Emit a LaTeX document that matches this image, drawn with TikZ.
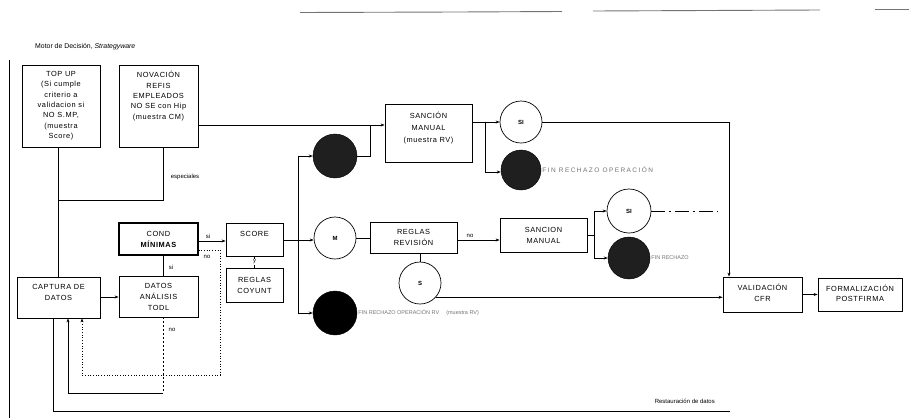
\documentclass[tikz,border=0pt]{standalone}
\usepackage{fontspec}
\setmainfont{Liberation Sans}
\usetikzlibrary{arrows.meta,calc}
\begin{document}
\begin{tikzpicture}[x=1pt,y=-1pt,
  box/.style={draw, line width=0.8pt, rectangle, inner sep=1pt, align=center, font=\fontsize{7.4}{11}\selectfont\addfontfeature{LetterSpace=8}},
  txt/.style={align=center, inner sep=0pt, font=\fontsize{7.4}{10.4}\selectfont\addfontfeature{LetterSpace=8}},
  circ/.style={draw, circle, line width=0.7pt, inner sep=0pt, font=\fontsize{6}{7}\selectfont\bfseries},
  blk/.style={circle, draw=black, fill=black!88, inner sep=0pt},
  arr/.style={-{Stealth[length=4pt,width=3pt]}, line width=0.7pt},
  ln/.style={line width=0.7pt},
  lbl/.style={font=\fontsize{6}{7}\selectfont, inner sep=1pt},
  fin/.style={font=\fontsize{5.5}{7}\selectfont, inner sep=1pt, text=black!55, anchor=west},
  scan/.style={line width=0.9pt, black!55}]
\useasboundingbox (0,0) rectangle (909,418);

% scanning artefacts: top rule and left border
\draw[scan] (300,12.5) -- (457,12) -- (562,11.5);
\draw[scan] (593,11) -- (820,10);
\draw[scan] (875,9) -- (909,9);
\draw[line width=0.8pt] (9,60) -- (9,418);

% title
\node[anchor=west, inner sep=0pt, font=\fontsize{6.9}{8}\selectfont] (title) at (35,47) {Motor de Decisión, \textit{Strategyware}};

% boxes
\node[box, minimum width=78pt, minimum height=82pt] (topup) at (61,106) {};
\node[txt, anchor=north] (topupt) at (61,71) {TOP UP\\(Si cumple\\criterio a\\validacion si\\NO S.MP,\\(muestra\\Score)};
\node[box, minimum width=79pt, minimum height=82pt] (novac) at (158.5,106) {};
\node[txt, anchor=north] (novact) at (158.5,71) {NOVACIÓN\\REFIS\\EMPLEADOS\\NO SE con Hip\\(muestra CM)};
\node[box, minimum width=83pt, minimum height=41pt] (captura) at (58.5,297.5) {};
\node[txt] (capturat) at (58.5,292.5) {CAPTURA DE\\DATOS};
\node[box, minimum width=79pt, minimum height=41pt] (datos) at (158.5,296.5) {DATOS\\ANÁLISIS\\TODL};
\node[box, line width=1.2pt, minimum width=79pt, minimum height=32pt] (cond) at (158.5,239) {COND\\\bfseries MÍNIMAS};
\node[box, minimum width=57pt, minimum height=33pt] (score) at (254.5,239.5) {};
\node[txt] (scoret) at (254.5,233.5) {SCORE};
\node[box, minimum width=57pt, minimum height=34pt] (coyunt) at (254.5,285) {REGLAS\\COYUNT};
\node[box, minimum width=87pt, minimum height=58pt] (sanc1) at (428.5,133) {};
\node[txt, font=\fontsize{7.4}{12}\selectfont\addfontfeature{LetterSpace=8}] (sanc1t) at (428.5,128) {SANCIÓN\\MANUAL\\(muestra RV)};
\node[box, minimum width=87pt, minimum height=31pt] (reglas) at (413.5,237.5) {REGLAS\\REVISIÓN};
\node[box, minimum width=87pt, minimum height=34pt] (sanc2) at (543.5,235) {SANCION\\MANUAL};
\node[box, minimum width=79pt, minimum height=35pt] (valid) at (762.5,294.5) {};
\node[txt] (validt) at (762.5,293) {VALIDACIÓN\\CFR};
\node[box, minimum width=84pt, minimum height=33pt] (formal) at (860,294.5) {};
\node[txt] (formalt) at (860,293.5) {FORMALIZACIÓN\\POSTFIRMA};

% circles
\node[blk, minimum size=44pt] (blk1) at (335,156) {};
\node[circ, minimum size=42pt] (m) at (335,238) {M};
\node[circ, minimum size=42pt] (s) at (420,283) {S};
\node[blk, fill=black, minimum size=44pt] (blk4) at (335,313) {};
\node[circ, minimum size=42pt] (si1) at (521,122) {SI};
\node[blk, minimum size=40pt] (blk2) at (521,170) {};
\node[circ, minimum size=44pt] (si2) at (629,211) {SI};
\node[blk, minimum size=42pt] (blk3) at (629,258) {};

\node[fin, font=\fontsize{6.5}{7}\selectfont\addfontfeature{LetterSpace=22}] (fin2) at (blk2.east) {FIN RECHAZO OPERACIÓN};
\node[fin] (fin3) at (blk3.east) {FIN RECHAZO};
\node[fin] (fin4) at (blk4.east) {FIN RECHAZO OPERACIÓN RV \quad (muestra RV)};

% connectors left part
\draw[ln] (captura.north) -- (captura.north |- topup.south);
\draw[ln] (captura.north |- 0,200) -- (163,200) -- (novac.south -| 163,0);
\node[lbl] (esp) at (185,177) {especiales};
\draw[arr] (captura.east |- 0,297) -- (datos.west |- 0,297);
\draw[ln] (datos.north -| 163,0) -- (cond.south -| 163,0);
\node[lbl] (si0) at (171,267) {si};
\draw[arr] (cond.east |- 0,241) -- (score.west |- 0,241);
\node[lbl] (si3) at (208,236) {si};
\node[lbl] (no1) at (207,257) {no};
\draw[arr, dotted, line width=0.9pt] (cond.east |- 0,250) -- (220,250) -- (220,375) -- (82,375) -- (captura.south -| 82,0);
\draw[ln, dashed, dash pattern=on 2pt off 2pt] (datos.south -| 163,0) -- (163,393);
\node[lbl] (no2) at (172,330) {no};
\draw[arr] (163,393) -- (68,393) -- (captura.south -| 68,0);
\draw[ln] (730,411) -- (53,411) -- (captura.south -| 53,0);
\node[lbl, anchor=east] (rest) at (716,401) {Restauración de datos};

% middle
\draw[ln] (score.south) -- (coyunt.north);
\node[lbl, fill=white] (y1) at (254.5,262) {y};
\draw[arr] (score.east |- 0,240) -- (m.west |- 0,240);
\draw[ln] (298,156) -- (298,313);
\draw[arr] (298,156) -- (blk1.west);
\draw[arr] (298,313) -- (blk4.west);
\draw[ln] (novac.east |- 0,125) -- (370,125);
\draw[arr] (blk1.east) -- (370,156) -- (370,125) -- (sanc1.west |- 0,125);
\draw[ln] (m.east) -- (reglas.west |- m.east);
\draw[arr] (reglas.east |- 0,240) -- (sanc2.west |- 0,240);
\node[lbl] (no3) at (470,236) {no};
\draw[ln] (reglas.south -| s.north) -- (s.north);
\draw[arr] (s.-42) -- (valid.west |- s.-42);

% right part
\draw[arr] (sanc1.east |- 0,122) -- (si1.west);
\draw[arr] (485,122) -- (485,172) -- (blk2.west |- 0,172);
\draw[arr] (si1.east) -- (729,122) -- (valid.north -| 729,0);
\draw[ln] (sanc2.east) -- (594,235);
\draw[ln] (594,211) -- (594,258);
\draw[arr] (594,211) -- (si2.west);
\draw[arr] (594,258) -- (blk3.west);
\draw[ln, dash pattern=on 14pt off 4pt on 2pt off 4pt] (si2.east) -- (718,211);
\draw[arr] (valid.east) -- (formal.west);
\end{tikzpicture}
\end{document}
